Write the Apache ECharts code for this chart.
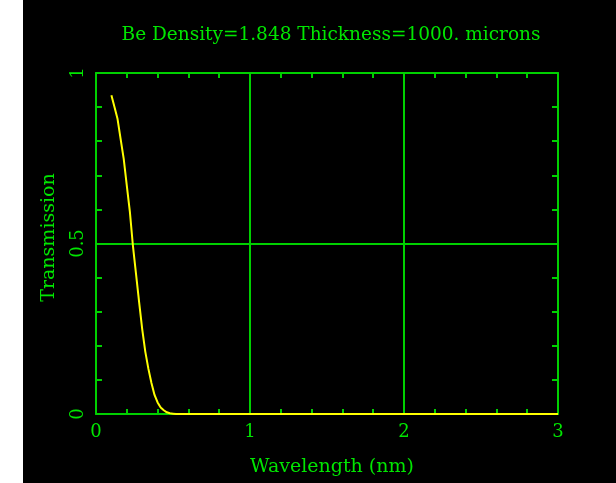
<!DOCTYPE html>
<html>
<head>
<meta charset="utf-8">
<script src="https://cdn.jsdelivr.net/npm/echarts@6/dist/echarts.min.js"></script>
<style>
  html, body { margin: 0; padding: 0; background: #fff; }
  #chart {
    width: 616px; height: 483px;
    background: linear-gradient(to right, #ffffff 23px, #000000 23px);
  }
</style>
</head>
<body>
<div id="chart"></div>
<script>
// Be filter transmission vs. wavelength
const titleText = 'Be Density=1.848 Thickness=1000. microns';
const xName = 'Wavelength (nm)';
const yName = 'Transmission';

const wavelength = [0.10, 0.12, 0.14, 0.16, 0.18, 0.20, 0.22, 0.24, 0.26, 0.28,
                    0.30, 0.32, 0.34, 0.36, 0.38, 0.40, 0.42, 0.44, 0.46, 0.48,
                    0.50, 0.52, 0.60, 1.00, 1.50, 2.00, 2.50, 3.00];
const transmission = [0.935, 0.900, 0.865, 0.806, 0.748, 0.670, 0.593, 0.492, 0.410, 0.328,
                      0.249, 0.183, 0.133, 0.091, 0.056, 0.034, 0.019, 0.011, 0.005, 0.002,
                      0.001, 0.000, 0.000, 0.000, 0.000, 0.000, 0.000, 0.000];

const xRange = [0, 3];
const yRange = [0, 1];
const xMajor = 1, xMinor = 0.2;
const yMajor = 0.5, yMinor = 0.1;

const GREEN = '#00e600';
const LINE_GREEN = '#00d000';
const FONT = 'DejaVu Serif';

const chart = echarts.init(document.getElementById('chart'), null, { renderer: 'canvas' });

// label only the major values, ticks at every minor step
function majorOnly(step) {
  return v => {
    const k = v / step;
    return Math.abs(k - Math.round(k)) < 1e-6 ? String(+v.toFixed(3)) : '';
  };
}

const lineStyle = { color: LINE_GREEN, width: 2 };

// tick axes (one on each side of the box)
function xTickAxis(pos, showLabels) {
  return {
    type: 'value', position: pos, min: xRange[0], max: xRange[1], interval: xMinor,
    axisLine: { show: true, onZero: false, lineStyle },
    axisTick: { show: true, inside: true, length: 5, lineStyle },
    splitLine: { show: false },
    axisLabel: {
      show: showLabels, color: GREEN, fontFamily: FONT, fontSize: 18, margin: 9,
      formatter: majorOnly(xMajor)
    },
    name: showLabels ? xName : '',
    nameLocation: 'middle', nameGap: 44,
    nameTextStyle: { color: GREEN, fontFamily: FONT, fontSize: 19, padding: [0, 0, 0, 10] }
  };
}

function yTickAxis(pos, showLabels) {
  return {
    type: 'value', position: pos, min: yRange[0], max: yRange[1], interval: yMinor,
    axisLine: { show: true, onZero: false, lineStyle },
    axisTick: { show: true, inside: true, length: 6, lineStyle },
    splitLine: { show: false },
    axisLabel: {
      show: showLabels, color: GREEN, fontFamily: FONT, fontSize: 18, margin: 9, rotate: 90,
      formatter: majorOnly(yMajor)
    },
    name: showLabels ? yName : '',
    nameLocation: 'middle', nameGap: 37,
    nameTextStyle: { color: GREEN, fontFamily: FONT, fontSize: 19, padding: [0, 0, 0, 12] }
  };
}

// grid-line axes at the major values
function xGridAxis() {
  return {
    type: 'value', position: 'bottom', min: xRange[0], max: xRange[1], interval: xMajor,
    axisLine: { show: false }, axisTick: { show: false }, axisLabel: { show: false },
    splitLine: { show: true, lineStyle }
  };
}
function yGridAxis() {
  return {
    type: 'value', position: 'left', min: yRange[0], max: yRange[1], interval: yMajor,
    axisLine: { show: false }, axisTick: { show: false }, axisLabel: { show: false },
    splitLine: { show: true, lineStyle }
  };
}

chart.setOption({
  animation: false,
  backgroundColor: 'transparent',
  title: {
    text: titleText, left: 326, top: 21, textAlign: 'center',
    textStyle: { color: GREEN, fontFamily: FONT, fontSize: 18.5, fontWeight: 'normal' }
  },
  grid: { left: 96, right: 58, top: 73, bottom: 69, containLabel: false },
  xAxis: [xTickAxis('bottom', true), xTickAxis('top', false), xGridAxis()],
  yAxis: [yTickAxis('left', true), yTickAxis('right', false), yGridAxis()],
  series: [{
    type: 'line',
    xAxisIndex: 0, yAxisIndex: 0,
    data: wavelength.map((w, i) => [w, transmission[i]]),
    showSymbol: false, smooth: false, clip: false,
    lineStyle: { color: '#ffff00', width: 2 },
    z: 5
  }]
});
</script>
</body>
</html>
